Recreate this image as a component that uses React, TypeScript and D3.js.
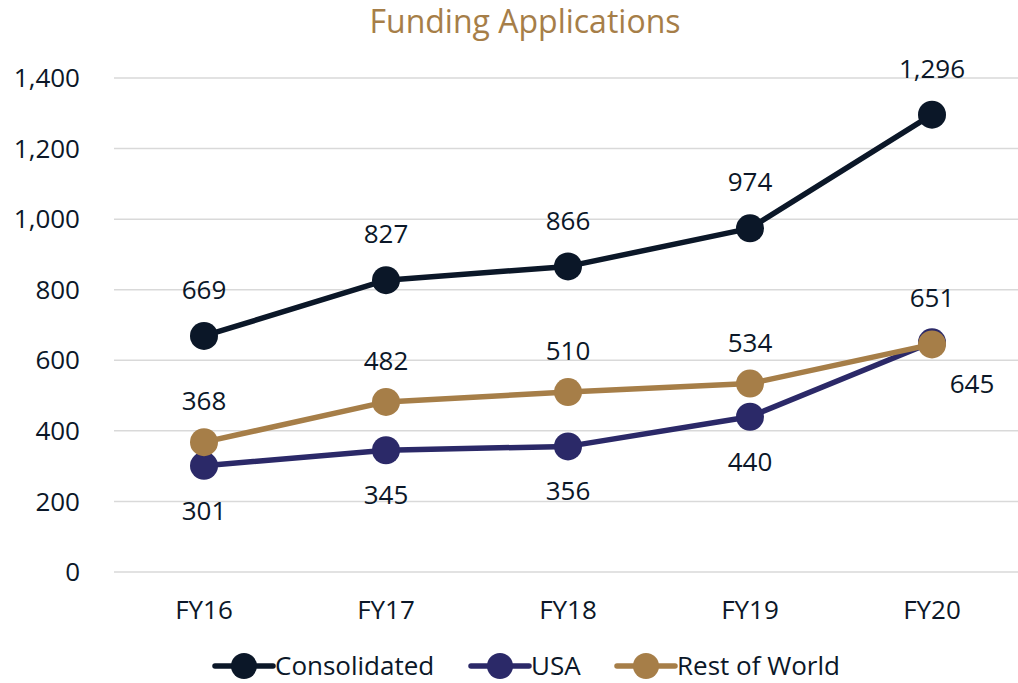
import React, { useRef, useEffect } from 'react';
import * as d3 from 'd3';

const years = ['FY16', 'FY17', 'FY18', 'FY19', 'FY20'];
const consolidated = [669, 827, 866, 974, 1296];
const usa = [301, 345, 356, 440, 651];
const restOfWorld = [368, 482, 510, 534, 645];
const yTicks = [0, 200, 400, 600, 800, 1000, 1200, 1400];

interface Series {
  name: string,
  values: number[],
  color: string
}

const series: Series[] = [
  { name: 'Consolidated', values: consolidated, color: '#0b1728' },
  { name: 'USA', values: usa, color: '#2b2968' },
  { name: 'Rest of World', values: restOfWorld, color: '#a67e48' },
];

const textColor = '#0b1728';
const font = '"Open Sans", "Noto Sans", sans-serif';

const App: React.FC = () => {
  const svgRef = useRef<SVGSVGElement | null>(null);

  useEffect(() => {
    if (!svgRef.current) return;
    const width = 1018;
    const height = 683;

    const svg = d3.select(svgRef.current)
      .attr('width', width)
      .attr('height', height);
    svg.selectAll('*').remove();

    const x = d3.scaleBand()
      .domain(years)
      .range([113, 1023]);
    const cx = (d: string) => (x(d) || 0) + x.bandwidth() / 2;

    const y = d3.scaleLinear()
      .domain([0, 1400])
      .range([572, 78]);

    // title
    svg.append('text')
      .attr('x', 525)
      .attr('y', 22)
      .attr('dy', '0.35em')
      .attr('text-anchor', 'middle')
      .style('font-family', font)
      .style('font-size', '32px')
      .attr('fill', '#a67e48')
      .text('Funding Applications');

    // gridlines
    svg.append('g')
      .selectAll('line')
      .data(yTicks)
      .enter()
      .append('line')
      .attr('x1', 114)
      .attr('x2', 1018)
      .attr('y1', (d) => y(d))
      .attr('y2', (d) => y(d))
      .attr('stroke', '#d9d9d9')
      .attr('stroke-width', 1.5);

    // y labels
    svg.append('g')
      .selectAll('text')
      .data(yTicks)
      .enter()
      .append('text')
      .attr('x', 80)
      .attr('y', (d) => y(d))
      .attr('dy', '0.35em')
      .attr('text-anchor', 'end')
      .style('font-family', font)
      .style('font-size', '26px')
      .attr('fill', textColor)
      .text((d) => d3.format(',')(d));

    // x labels
    svg.append('g')
      .selectAll('text')
      .data(years)
      .enter()
      .append('text')
      .attr('x', (d) => cx(d))
      .attr('y', 610)
      .attr('dy', '0.35em')
      .attr('text-anchor', 'middle')
      .style('font-family', font)
      .style('font-size', '26px')
      .attr('fill', textColor)
      .text((d) => d);

    const line = d3.line<number>()
      .x((_, i) => cx(years[i]))
      .y((d) => y(d));

    series.forEach((s) => {
      const g = svg.append('g');
      g.append('path')
        .datum(s.values)
        .attr('d', line)
        .attr('fill', 'none')
        .attr('stroke', s.color)
        .attr('stroke-width', 5.5)
        .attr('stroke-linejoin', 'round');
      g.selectAll('circle')
        .data(s.values)
        .enter()
        .append('circle')
        .attr('cx', (_, i) => cx(years[i]))
        .attr('cy', (d) => y(d))
        .attr('r', 14)
        .attr('fill', s.color);
    });

    // data labels
    series.forEach((s) => {
      const last = s.values.length - 1;
      svg.append('g')
        .selectAll('text')
        .data(s.values)
        .enter()
        .append('text')
        .attr('x', (_, i) => {
          const base = cx(years[i]);
          if (s.name === 'Rest of World' && i === last) return base + 40;
          return base;
        })
        .attr('y', (d, i) => {
          let off = -46;
          if (s.name === 'USA') off = i === last ? -44 : 45;
          if (s.name === 'Rest of World') off = i === last ? 39 : -41;
          return y(d) + off;
        })
        .attr('dy', '0.35em')
        .attr('text-anchor', 'middle')
        .style('font-family', font)
        .style('font-size', '26px')
        .attr('fill', textColor)
        .text((d) => d3.format(',')(d));
    });

    // legend
    const legendX = [215, 471, 617];
    const legend = svg.append('g');
    series.forEach((s, i) => {
      const g = legend.append('g').attr('transform', `translate(${legendX[i]},666)`);
      g.append('line')
        .attr('x1', 0)
        .attr('x2', 58)
        .attr('stroke', s.color)
        .attr('stroke-width', 5.5)
        .attr('stroke-linecap', 'round');
      g.append('circle')
        .attr('cx', 29)
        .attr('r', 13)
        .attr('fill', s.color);
      g.append('text')
        .attr('x', 60)
        .attr('dy', '0.35em')
        .style('font-family', font)
        .style('font-size', '26px')
        .attr('fill', textColor)
        .text(s.name);
    });
  }, []);

  return (
    <div>
      <svg ref={svgRef} style={{ position: 'absolute', top: 0, left: 0 }} />
    </div>
  );
};

export default App;
